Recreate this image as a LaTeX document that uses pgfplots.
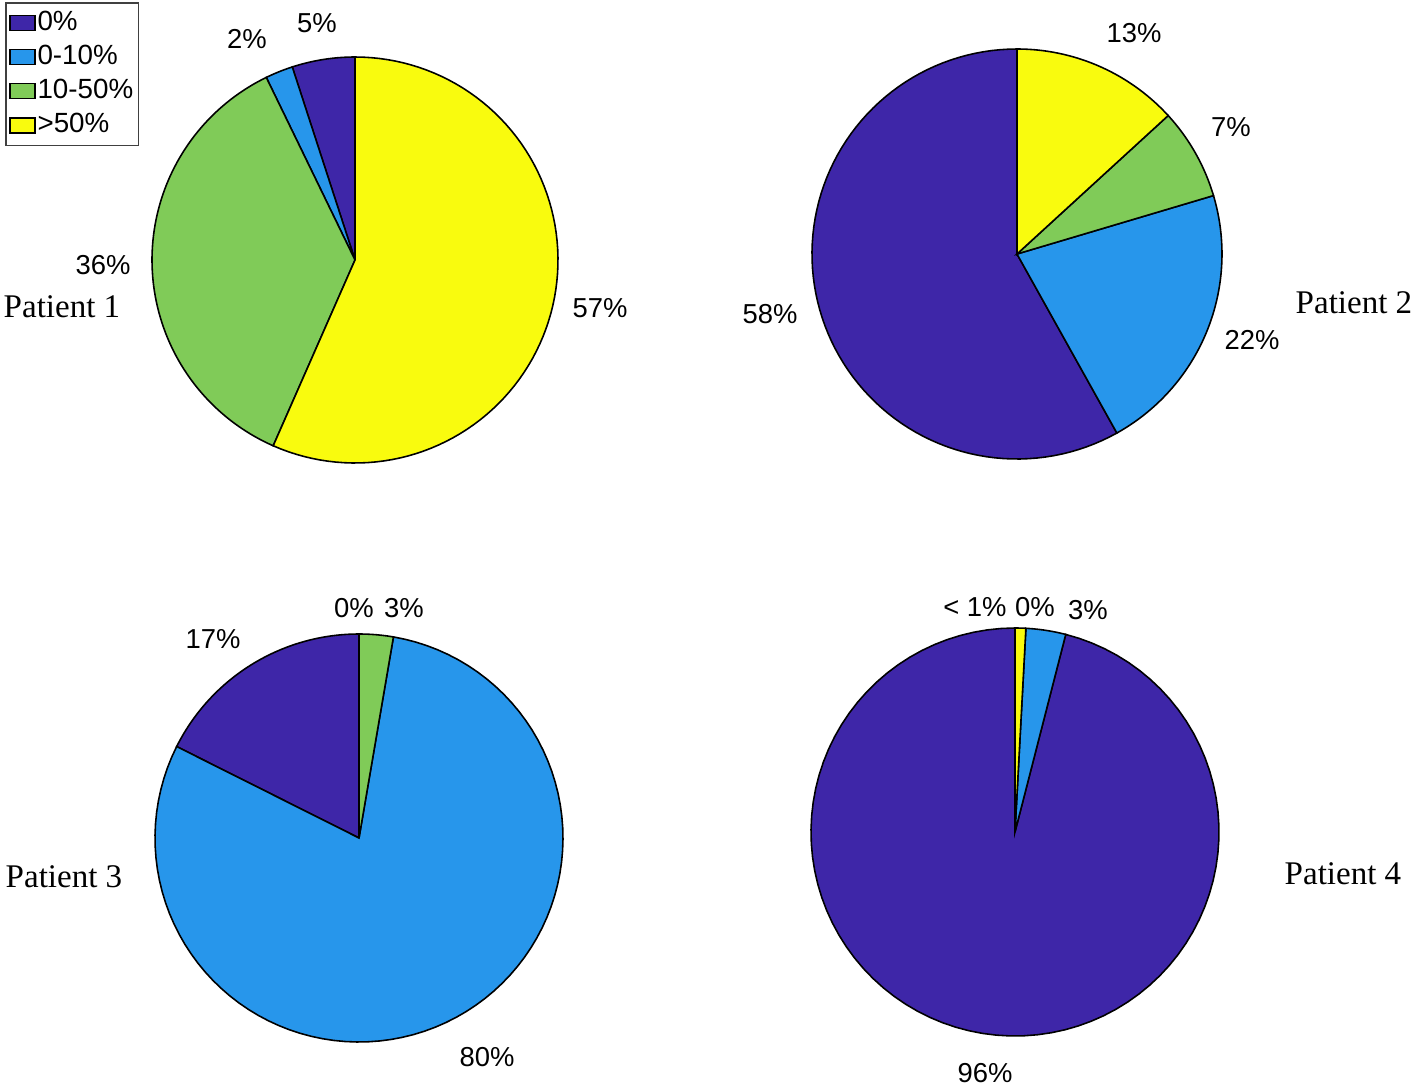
\documentclass[border=0pt]{standalone}
\usepackage{fontspec}
\setmainfont{Liberation Serif}
\newfontfamily\arial{Liberation Sans}
\usepackage{pgfplots}
\pgfplotsset{compat=1.18}
\definecolor{c0}{RGB}{62,38,168}
\definecolor{c1}{RGB}{39,150,235}
\definecolor{c2}{RGB}{128,203,88}
\definecolor{c3}{RGB}{249,251,14}
% slice: cx, cy, r, start %, end %, colour  (MATLAB pie: counter-clockwise from the top)
\newcommand\slice[6]{%
  \addplot[fill=#6, draw=black, line width=0.45pt, domain={90+3.6*#4}:{90+3.6*#5},
    samples=90, variable=\t, forget plot, mark=none]
    ({#1+#3*cos(\t)},{#2-#3*sin(\t)}) -- (axis cs:#1,#2) -- cycle;}
\newcommand\lab[3]{\node[font=\arial\fontsize{7.8}{8}\selectfont, anchor=center, inner sep=0pt] at (axis cs:#1,#2) {#3};}
\newcommand\pat[3]{\node[font=\fontsize{9.4}{10}\selectfont, anchor=center, inner sep=0pt] at (axis cs:#1,#2) {#3};}
\begin{document}
\begin{tikzpicture}
\begin{axis}[
  width=14.16cm, height=10.88cm, scale only axis,
  xmin=0, xmax=1416, ymin=0, ymax=1088, y dir=reverse,
  axis lines=none, clip=false,
  legend style={at={(axis cs:5,2)}, anchor=north west,
    font=\arial\fontsize{7.9}{8}\selectfont, draw=black!75, line width=0.5pt,
    inner xsep=1pt, inner ysep=1.2pt, row sep=0.7pt,
    nodes={inner xsep=0.5pt, inner ysep=1pt}},
  legend cell align=left,
  legend image code/.code={\draw[#1] (0cm,-0.075cm) rectangle (0.25cm,0.075cm);},
]
\addlegendimage{fill=c0, draw=black, line width=0.4pt}
\addlegendentry{0\%}
\addlegendimage{fill=c1, draw=black, line width=0.4pt}
\addlegendentry{0-10\%}
\addlegendimage{fill=c2, draw=black, line width=0.4pt}
\addlegendentry{10-50\%}
\addlegendimage{fill=c3, draw=black, line width=0.4pt}
\addlegendentry{>50\%}

% Patient 1: 5, 2, 36, 57
\slice{355}{260}{203}{0}{5}{c0}
\slice{355}{260}{203}{5}{7.2}{c1}
\slice{355}{260}{203}{7.2}{43.4}{c2}
\slice{355}{260}{203}{43.4}{100}{c3}
% Patient 2: 58, 22, 7, 13
\slice{1017}{254}{205}{0}{58.1}{c0}
\slice{1017}{254}{205}{58.1}{79.6}{c1}
\slice{1017}{254}{205}{79.6}{86.8}{c2}
\slice{1017}{254}{205}{86.8}{100}{c3}
% Patient 3: 17, 80, 3, 0
\slice{359}{838}{204}{0}{17.6}{c0}
\slice{359}{838}{204}{17.6}{97.3}{c1}
\slice{359}{838}{204}{97.3}{100}{c2}
% Patient 4: 96, 3, 0, <1
\slice{1015}{832}{204}{0}{96.0}{c0}
\slice{1015}{832}{204}{96.0}{99.15}{c1}
\slice{1015}{832}{204}{99.15}{100}{c3}

\lab{247}{39}{2\%}
\lab{317}{23}{5\%}
\lab{103}{265}{36\%}
\lab{600}{308}{57\%}
\pat{62}{307}{Patient 1}

\lab{1134}{33}{13\%}
\lab{1231}{127}{7\%}
\lab{1252}{340}{22\%}
\lab{770}{314}{58\%}
\pat{1354}{303}{Patient 2}

\lab{213}{639}{17\%}
\lab{354}{608}{0\%}
\lab{404}{608}{3\%}
\lab{487}{1057}{80\%}
\pat{64}{877}{Patient 3}

\lab{975}{607}{< 1\%}
\lab{1035}{607}{0\%}
\lab{1088}{610}{3\%}
\lab{985}{1073}{96\%}
\pat{1343}{874}{Patient 4}
\end{axis}
\path (current axis.south west) rectangle (current axis.north east);
\end{tikzpicture}
\end{document}
